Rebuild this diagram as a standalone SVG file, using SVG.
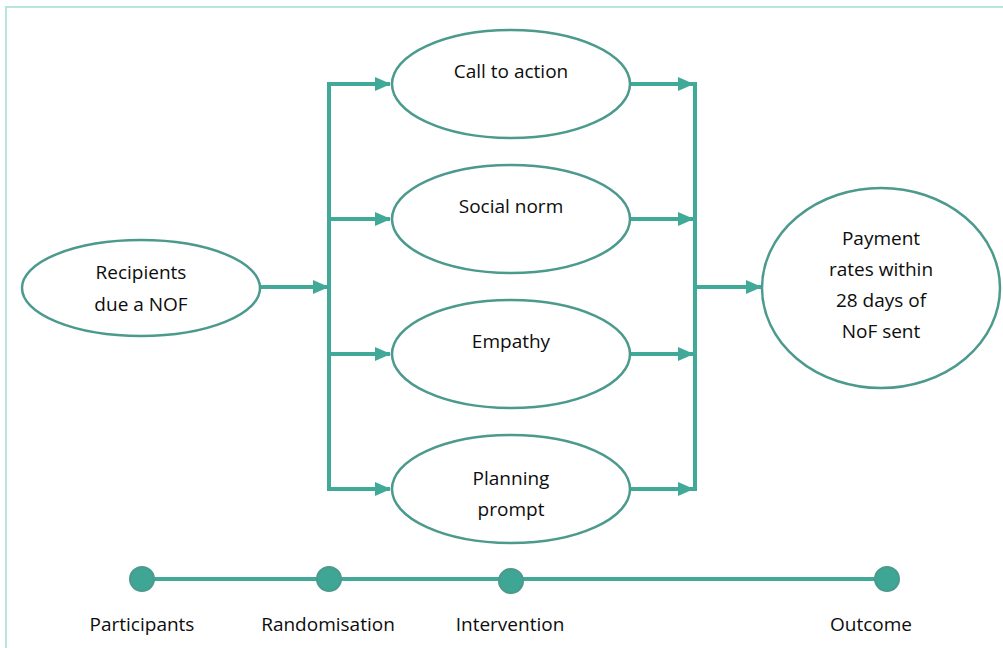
<svg xmlns="http://www.w3.org/2000/svg" width="1003" height="648" viewBox="0 0 1003 648">
  <style>
    .node { fill: #ffffff; stroke: #4b9a8d; stroke-width: 2.5; }
    .lbl { font-family: "Open Sans", "Noto Sans", sans-serif; font-size: 19px; fill: #0d0d0d; text-anchor: middle; }
    .wire { stroke: #40a998; stroke-width: 4; fill: none; }
    .dot { fill: #3fa594; stroke: #4b9a8d; stroke-width: 2; }
  </style>
  <defs>
    <marker id="arrow" viewBox="0 0 16 14" refX="15" refY="7" markerWidth="16" markerHeight="14" markerUnits="userSpaceOnUse" orient="auto">
      <path d="M0,0 L16,7 L0,14 Z" fill="#40a998"/>
    </marker>
  </defs>

  <!-- frame -->
  <rect x="6" y="7" width="1010" height="660" fill="none" stroke="#b6e5dc" stroke-width="2"/>

  <g id="connectors">
    <line class="wire" x1="260" y1="287" x2="328" y2="287" marker-end="url(#arrow)"/>
    <line class="wire" x1="329" y1="82" x2="329" y2="491"/>
    <line class="wire" x1="327" y1="84" x2="390" y2="84" marker-end="url(#arrow)"/>
    <line class="wire" x1="329" y1="219" x2="390" y2="219" marker-end="url(#arrow)"/>
    <line class="wire" x1="329" y1="354" x2="390" y2="354" marker-end="url(#arrow)"/>
    <line class="wire" x1="327" y1="489" x2="390" y2="489" marker-end="url(#arrow)"/>
    <line class="wire" x1="631" y1="84" x2="693" y2="84" marker-end="url(#arrow)"/>
    <line class="wire" x1="631" y1="219" x2="693" y2="219" marker-end="url(#arrow)"/>
    <line class="wire" x1="631" y1="354" x2="693" y2="354" marker-end="url(#arrow)"/>
    <line class="wire" x1="631" y1="489" x2="693" y2="489" marker-end="url(#arrow)"/>
    <line class="wire" x1="695" y1="82" x2="695" y2="491"/>
    <line class="wire" x1="695" y1="287" x2="761" y2="287" marker-end="url(#arrow)"/>
  </g>

  <g id="recipients">
    <ellipse class="node" cx="141" cy="288" rx="119" ry="48"/>
    <text class="lbl" x="141" y="279">Recipients</text>
    <text class="lbl" x="141" y="311">due a NOF</text>
  </g>
  <g id="call-to-action">
    <ellipse class="node" cx="511" cy="84" rx="119" ry="54"/>
    <text class="lbl" x="511" y="78">Call to action</text>
  </g>
  <g id="social-norm">
    <ellipse class="node" cx="511" cy="219" rx="119" ry="54"/>
    <text class="lbl" x="511" y="213">Social norm</text>
  </g>
  <g id="empathy">
    <ellipse class="node" cx="511" cy="354" rx="119" ry="54"/>
    <text class="lbl" x="511" y="348">Empathy</text>
  </g>
  <g id="planning-prompt">
    <ellipse class="node" cx="511" cy="489" rx="119" ry="54"/>
    <text class="lbl" x="511" y="485">Planning</text>
    <text class="lbl" x="511" y="516">prompt</text>
  </g>
  <g id="payment-rates">
    <ellipse class="node" cx="881" cy="288" rx="119" ry="100"/>
    <text class="lbl" x="881" y="245">Payment</text>
    <text class="lbl" x="881" y="276">rates within</text>
    <text class="lbl" x="881" y="307">28 days of</text>
    <text class="lbl" x="881" y="338">NoF sent</text>
  </g>

  <g id="timeline">
    <line class="wire" x1="142" y1="579" x2="887" y2="579"/>
    <circle class="dot" cx="142" cy="579" r="12"/>
    <circle class="dot" cx="329" cy="579" r="12"/>
    <circle class="dot" cx="511" cy="581" r="12"/>
    <circle class="dot" cx="887" cy="579" r="12"/>
    <text class="lbl" x="142" y="631">Participants</text>
    <text class="lbl" x="328" y="631">Randomisation</text>
    <text class="lbl" x="510" y="631">Intervention</text>
    <text class="lbl" x="871" y="631">Outcome</text>
  </g>
</svg>
